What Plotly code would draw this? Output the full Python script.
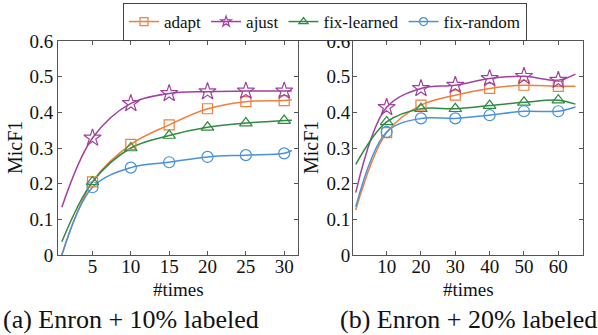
import plotly.graph_objects as go

# ---- data ----
series_names = ["adapt", "ajust", "fix-learned", "fix-random"]
colors = ["#F07F3C", "#A040A0", "#2F8A42", "#4A90DA"]
symbols = ["square-open", "star-open", "triangle-up-open", "circle-open"]
marker_sizes = [10, 13, 11, 11]

# (a) Enron + 10% labeled
a_x = [5, 10, 15, 20, 25, 30]
a_adapt = [0.205, 0.31, 0.365, 0.41, 0.43, 0.433]
a_ajust = [0.328, 0.425, 0.453, 0.458, 0.46, 0.46]
a_fixl = [0.205, 0.30, 0.335, 0.358, 0.37, 0.377]
a_fixr = [0.19, 0.245, 0.26, 0.275, 0.28, 0.285]
a_start_x, a_end_x = 1, 31
a_start = [0.0, 0.134, 0.037, 0.0]
a_end = [0.435, 0.46, 0.378, 0.293]

# (b) Enron + 20% labeled
b_x = [10, 20, 30, 40, 50, 60]
b_adapt = [0.343, 0.42, 0.448, 0.467, 0.476, 0.473]
b_ajust = [0.414, 0.467, 0.476, 0.495, 0.501, 0.49]
b_fixl = [0.373, 0.41, 0.41, 0.419, 0.428, 0.434]
b_fixr = [0.345, 0.383, 0.383, 0.392, 0.403, 0.403]
b_start_x, b_end_x = 1, 65
b_start = [0.126, 0.175, 0.254, 0.135]
b_end = [0.473, 0.507, 0.423, 0.415]

y_ticks = [0, 0.1, 0.2, 0.3, 0.4, 0.5, 0.6]
y_ticktext = ["0", "0.1", "0.2", "0.3", "0.4", "0.5", "0.6"]
a_xticks = [5, 10, 15, 20, 25, 30]
b_xticks = [10, 20, 30, 40, 50, 60]
x_title = "#times"
y_title = "MicF1"
captions = ["(a) Enron + 10% labeled", "(b) Enron + 20% labeled"]

FONT = "Liberation Serif, Times New Roman, serif"
fig = go.Figure()

panels = [
    ("x", "y", a_x, [a_adapt, a_ajust, a_fixl, a_fixr], a_start_x, a_end_x, a_start, a_end),
    ("x2", "y2", b_x, [b_adapt, b_ajust, b_fixl, b_fixr], b_start_x, b_end_x, b_start, b_end),
]
for xa, ya, xs, vals, sx, ex, st, en in panels:
    for i, v in enumerate(vals):
        fig.add_trace(go.Scatter(
            x=[sx] + xs + [ex], y=[st[i]] + v + [en[i]], mode="lines",
            line=dict(color=colors[i], width=1.5, shape="spline", smoothing=1.0),
            xaxis=xa, yaxis=ya, showlegend=False, hoverinfo="skip"))
    for i, v in enumerate(vals):
        fig.add_trace(go.Scatter(
            x=xs, y=v, mode="markers",
            marker=dict(symbol=symbols[i], size=marker_sizes[i], color=colors[i],
                        line=dict(width=1.2, color=colors[i])),
            xaxis=xa, yaxis=ya, showlegend=False))

for i, n in enumerate(series_names):
    fig.add_trace(go.Scatter(
        x=[None], y=[None], mode="lines+markers", name=n,
        line=dict(color=colors[i], width=1.5),
        marker=dict(symbol=symbols[i], size=8, color=colors[i],
                    line=dict(width=1.2, color=colors[i]))))

TICK = 19
axis_common = dict(showline=True, linecolor="#555", linewidth=1, mirror="ticks",
                   ticks="inside", ticklen=4, tickcolor="#555", showgrid=False,
                   zeroline=False, tickfont=dict(family=FONT, size=TICK, color="#111"))

W, H = 598, 335
L, R, T, B = 58, 15, 41, 80
PW, PH = W - L - R, H - T - B
def fx(p): return (p - L) / PW
def fy(p): return (H - B - p) / PH

def ann(text, x, y, size, angle=0):
    return dict(text=text, x=fx(x), y=fy(y), xref="paper", yref="paper",
                xanchor="center", yanchor="middle", textangle=angle,
                showarrow=False, font=dict(family=FONT, size=size, color="#111"))

fig.update_layout(
    width=W, height=H, margin=dict(l=L, r=R, t=T, b=B, autoexpand=False),
    plot_bgcolor="white", paper_bgcolor="white",
    font=dict(family=FONT, size=TICK, color="#111"),
    xaxis=dict(domain=[fx(58), fx(298)], range=[0.5, 31.8], tickvals=a_xticks,
               ticklabelstandoff=-6, anchor="y", **axis_common),
    yaxis=dict(domain=[fy(255), fy(41)], range=[0, 0.6], tickvals=y_ticks, ticktext=y_ticktext,
               anchor="x", **axis_common),
    xaxis2=dict(domain=[fx(353), fx(583)], range=[0.2, 67.2], tickvals=b_xticks,
                ticklabelstandoff=-6, anchor="y2", **axis_common),
    yaxis2=dict(domain=[fy(255), fy(41)], range=[0, 0.6], tickvals=y_ticks, ticktext=y_ticktext,
                ticklabelstandoff=-2, anchor="x2", **axis_common),
    legend=dict(orientation="h", x=fx(325), xanchor="center", y=fy(3), yanchor="top",
                bordercolor="#444", borderwidth=1, bgcolor="white",
                font=dict(family=FONT, size=17, color="#111"),
                itemwidth=30, tracegroupgap=0),
    annotations=[
        ann(x_title, 178, 289, 19),
        ann(x_title, 468, 289, 19),
        ann(y_title, 15, 148, 20, -90),
        ann(y_title, 311, 148, 20, -90),
        ann(captions[0], 131, 319, 26),
        ann(captions[1], 468, 319, 26),
    ],
)

fig.write_html("out.html", config={"displayModeBar": False},
               post_script="document.body.style.margin='0';document.body.style.padding='0';")
